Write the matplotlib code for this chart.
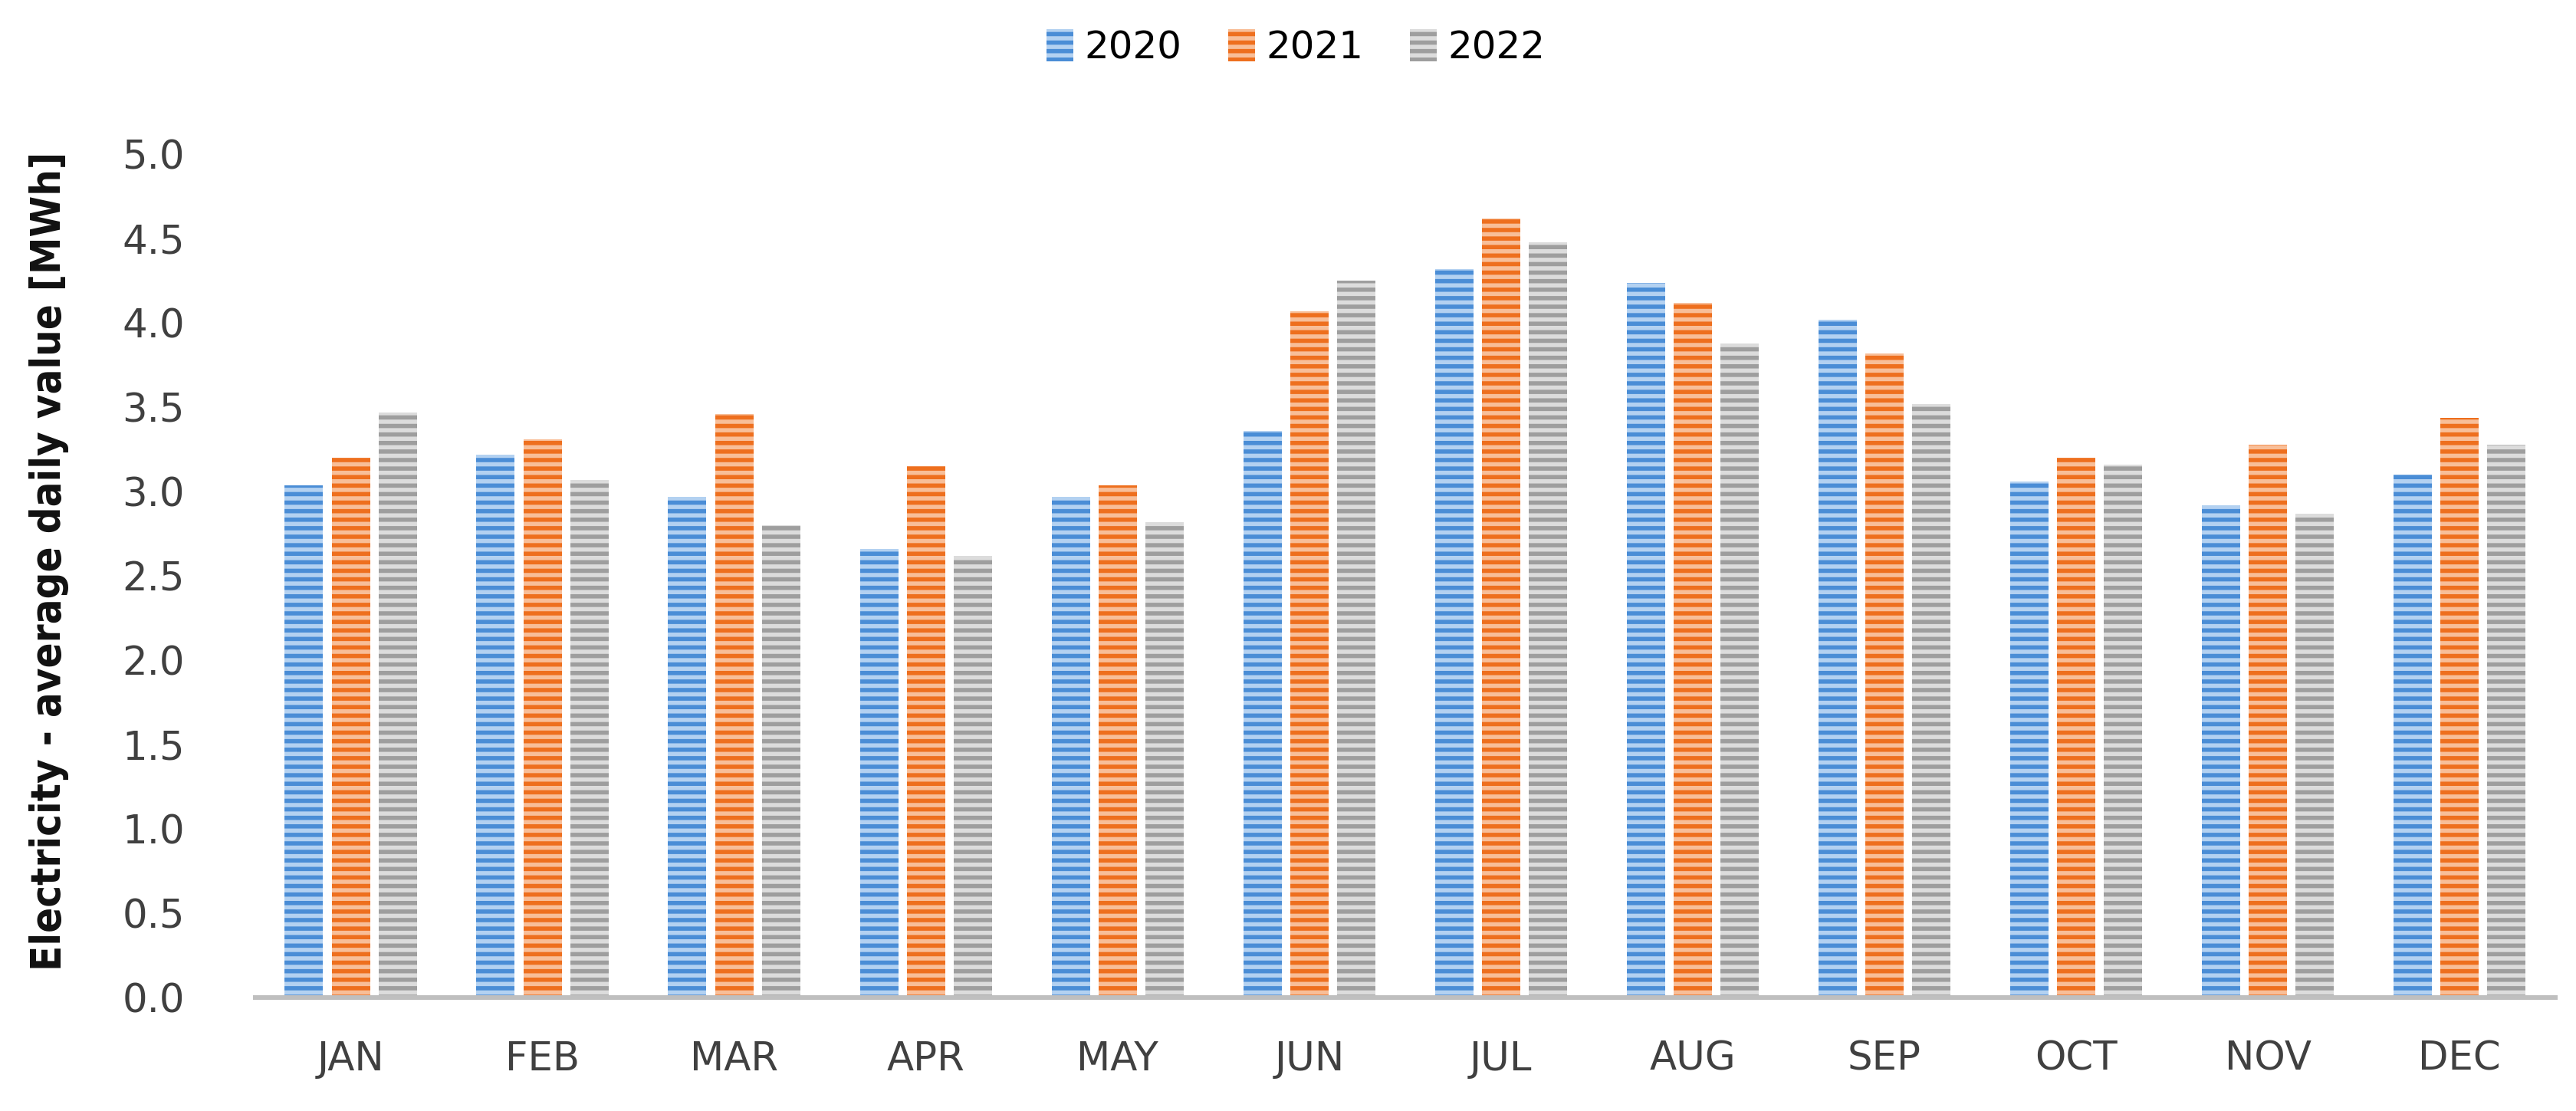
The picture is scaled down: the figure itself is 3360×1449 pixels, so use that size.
import numpy as np
import matplotlib
matplotlib.use("Agg")
import matplotlib.pyplot as plt

# Data (average daily electricity, MWh)
months = ['JAN', 'FEB', 'MAR', 'APR', 'MAY', 'JUN', 'JUL', 'AUG', 'SEP', 'OCT', 'NOV', 'DEC']
years = ['2020', '2021', '2022']
v2020 = [3.04, 3.22, 2.97, 2.66, 2.97, 3.36, 4.32, 4.24, 4.02, 3.06, 2.92, 3.10]
v2021 = [3.20, 3.31, 3.46, 3.15, 3.04, 4.07, 4.62, 4.12, 3.82, 3.20, 3.28, 3.44]
v2022 = [3.47, 3.07, 2.80, 2.62, 2.82, 4.25, 4.48, 3.88, 3.52, 3.16, 2.87, 3.28]

series = [v2020, v2021, v2022]
base_cols = ['#4A8DD6', '#EE6F1E', '#9E9E9E']
stripe_cols = ['#B3D1F1', '#F8BE98', '#DCDCDC']

plt.rcParams['hatch.linewidth'] = 2.0

fig = plt.figure(figsize=(16.8, 7.245), dpi=200)
ax = fig.add_axes([0.099, 0.102, 0.893, 0.759])

x = np.arange(len(months))
w = 0.2
step = 0.245
for i, (vals, c, sc, lab) in enumerate(zip(series, base_cols, stripe_cols, years)):
    ax.bar(x + (i - 1) * step, vals, width=w, color=c, edgecolor=sc,
           linewidth=0, hatch='---', label=lab)

ax.set_xlim(-0.5, len(months) - 0.5)
ax.set_ylim(0, 5.0)
ax.set_yticks(np.arange(0, 5.01, 0.5))
ax.set_yticklabels([f'{t:.1f}' for t in np.arange(0, 5.01, 0.5)])
ax.set_xticks(x)
ax.set_xticklabels(months)
ax.tick_params(axis='both', length=0, labelsize=18.5, colors='#404040')
ax.tick_params(axis='x', pad=20)
ax.tick_params(axis='y', pad=33)

for s in ['top', 'right', 'left']:
    ax.spines[s].set_visible(False)
ax.spines['bottom'].set_color('#BFBFBF')
ax.spines['bottom'].set_linewidth(2.2)

fig.text(0.019, 0.495, 'Electricity - average daily value [MWh]', rotation=90,
         ha='center', va='center', fontsize=19.5, fontweight='bold',
         family=['DejaVu Sans'], stretch='condensed', color='#111111')

fig.legend(loc='center', bbox_to_anchor=(0.503, 0.957), ncol=3, frameon=False,
           fontsize=18, handlelength=0.7, handleheight=0.9, handletextpad=0.3,
           columnspacing=1.2)

fig.savefig('out.png', dpi=200)
